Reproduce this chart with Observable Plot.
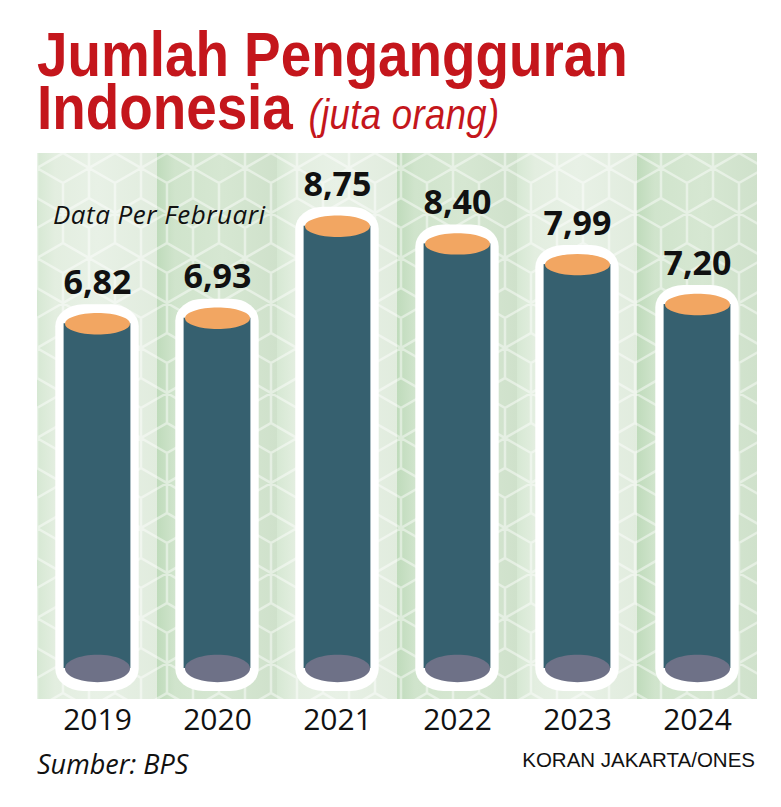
<!DOCTYPE html>
<html>
<head>
<meta charset="utf-8">
<script src="https://cdn.jsdelivr.net/npm/d3@7"></script>
<script src="https://cdn.jsdelivr.net/npm/@observablehq/plot@0.6"></script>
<style>
html,body{margin:0;padding:0;background:#fff;}
body{width:781px;height:807px;position:relative;overflow:hidden;}
#chart{position:absolute;left:0;top:0;}
.t{position:absolute;white-space:nowrap;line-height:1;z-index:2;}
.title{left:37px;top:28px;font-family:"Liberation Sans",Arial,sans-serif;font-weight:700;font-size:63px;line-height:53px;color:#c4161c;transform:scaleX(0.87);transform-origin:0 0;}
.title .unit{font-weight:400;font-style:italic;font-size:42px;margin-left:18px;letter-spacing:0.4px;}
#note{left:53px;top:201px;font-family:"Open Sans",sans-serif;font-style:italic;font-size:26px;letter-spacing:0.5px;color:#111;}
#src{left:37px;top:750px;font-family:"Open Sans",sans-serif;font-style:italic;font-size:27px;color:#111;}
#credit{right:26px;top:750px;font-family:"Liberation Sans",sans-serif;font-size:20.5px;color:#111;}
g[aria-label="outline"]{filter:drop-shadow(0 2px 5px rgba(90,160,90,0.55));}
</style>
</head>
<body>
<div class="t title" id="title">Jumlah Pengangguran<br>Indonesia<span class="unit">(juta orang)</span></div>
<div class="t" id="note">Data Per Februari</div>
<div id="chart"></div>
<div class="t" id="src">Sumber: BPS</div>
<div class="t" id="credit">KORAN JAKARTA/ONES</div>
<script>
const years = ["2019", "2020", "2021", "2022", "2023", "2024"];
const values = [6.82, 6.93, 8.75, 8.40, 7.99, 7.20];
const yDomain = [-0.613, 10.188];

const data = years.map((year, i) => ({year, value: values[i]}));
const fmt = v => v.toFixed(2).replace(".", ",");

function ellipseSymbol(ratio) {
  return {
    draw(ctx, size) {
      const rx = Math.sqrt(size / Math.PI), ry = rx * ratio, k = 0.5523;
      ctx.moveTo(rx, 0);
      ctx.bezierCurveTo(rx, ry * k, rx * k, ry, 0, ry);
      ctx.bezierCurveTo(-rx * k, ry, -rx, ry * k, -rx, 0);
      ctx.bezierCurveTo(-rx, -ry * k, -rx * k, -ry, 0, -ry);
      ctx.bezierCurveTo(rx * k, -ry, rx, -ry * k, rx, 0);
      ctx.closePath();
    }
  };
}

const evenYears = years.filter((d, i) => i % 2 === 0);
const oddYears = years.filter((d, i) => i % 2 === 1);

const chart = Plot.plot({
  width: 781,
  height: 807,
  marginLeft: 37,
  marginRight: 24,
  marginTop: 153,
  marginBottom: 108,
  style: {fontFamily: "Open Sans, sans-serif", color: "#111", background: "transparent", overflow: "visible"},
  x: {domain: years, padding: 0, label: null},
  y: {domain: yDomain, axis: null},
  marks: [
    Plot.cell(evenYears, {x: d => d, fill: "url(#gA)"}),
    Plot.cell(oddYears, {x: d => d, fill: "url(#gB)"}),
    Plot.cell(years, {x: d => d, fill: "url(#cubes)"}),
    Plot.barY(data, {x: "year", y: "value", fill: "#ffffff", insetLeft: 18.3, insetRight: 18.3, insetTop: -19, insetBottom: -23, rx: 28, ry: 22, ariaLabel: "outline"}),
    Plot.barY(data, {x: "year", y: "value", fill: "#36606f", insetLeft: 26.6, insetRight: 26.6}),
    Plot.dot(data, {x: "year", y: () => 0, r: 32.5, symbol: ellipseSymbol(0.42), fill: "#6e7187", stroke: "none"}),
    Plot.dot(data, {x: "year", y: "value", r: 32.5, symbol: ellipseSymbol(0.33), fill: "#f2a662", stroke: "none"}),
    Plot.text(data, {x: "year", y: "value", text: d => fmt(d.value), dy: -30, lineAnchor: "bottom", fontSize: 34, fontWeight: 700, fontFamily: "Open Sans, sans-serif", fill: "#111"}),
    Plot.axisX({tickSize: 0, tickPadding: 9, fontSize: 30, label: null, fill: "#111"})
  ]
});

// decorative defs: column gradients + cube pattern
const svg = d3.select(chart);
const defs = svg.insert("defs", ":first-child");
function grad(id, stops) {
  const g = defs.append("linearGradient").attr("id", id).attr("x1", 0).attr("x2", 1).attr("y1", 0).attr("y2", 0);
  stops.forEach(([o, c]) => g.append("stop").attr("offset", o).attr("stop-color", c));
}
grad("gA", [[0, "#d6e8d3"], [0.15, "#e3eee0"], [0.5, "#e8f1e6"], [1, "#e1ecde"]]);
grad("gB", [[0, "#bfdbbb"], [0.15, "#d0e4cc"], [0.55, "#d6e7d2"], [1, "#cfe1cb"]]);
const W = 52, H = 90;
const pat = defs.append("pattern").attr("id", "cubes").attr("patternUnits", "userSpaceOnUse")
  .attr("width", W).attr("height", H).attr("x", 37).attr("y", 153);
let p = "";
[[26, 30], [26, 120], [26, -60], [0, 75], [52, 75], [0, -15], [52, -15]].forEach(([cx, cy]) => {
  p += `M${cx},${cy - 30}L${cx + 26},${cy - 15}L${cx + 26},${cy + 15}L${cx},${cy + 30}L${cx - 26},${cy + 15}L${cx - 26},${cy - 15}Z`;
  p += `M${cx},${cy}L${cx - 26},${cy - 15}M${cx},${cy}L${cx + 26},${cy - 15}M${cx},${cy}L${cx},${cy + 30}`;
});
pat.append("path").attr("d", p).attr("fill", "none").attr("stroke", "#ffffff").attr("stroke-opacity", 0.45).attr("stroke-width", 2.5);

document.getElementById("chart").appendChild(chart);
</script>
</body>
</html>
